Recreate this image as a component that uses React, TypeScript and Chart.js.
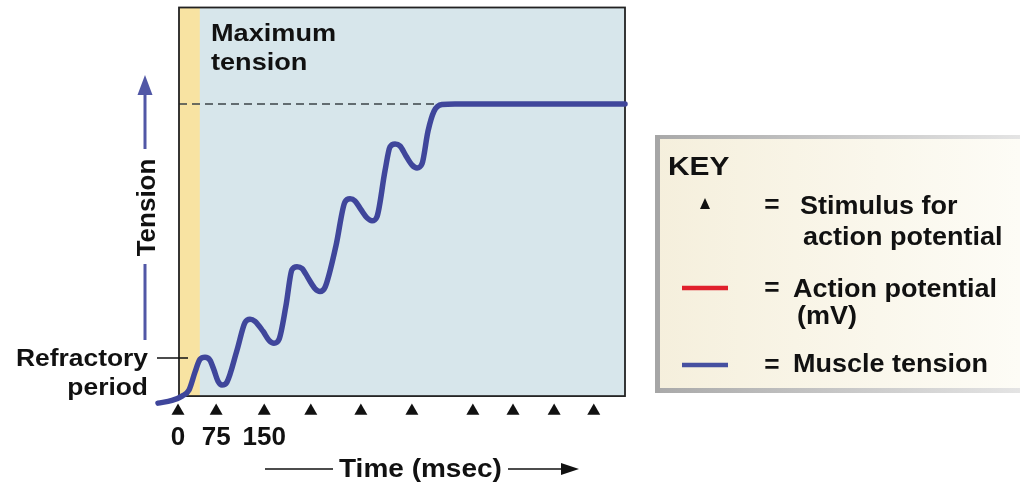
import React, { useEffect, useRef } from 'react';
import { Chart, registerables } from 'chart.js';

Chart.register(...registerables);

// ---------- data ----------
const timeMs = [-42.4, -14.1, 6.1, 20.2, 32.3, 42.4, 52.5, 62.6, 70.6, 78.7, 86.8, 96.8, 117.0, 133.2, 143.3, 153.4, 169.5, 181.6, 191.7, 201.8, 215.9, 228.0, 238.1, 248.2, 262.3, 274.4, 284.5, 294.6, 316.8, 335.0, 345.1, 355.2, 367.3, 379.4, 389.5, 399.5, 415.7, 425.8, 435.9, 446.0, 458.1, 470.2, 480.3, 490.4, 502.5, 514.6, 530.7, 556.9, 900];
const tension = [-2.4, -1.5, 0, 2.1, 8.2, 12.6, 13.3, 12.3, 8.9, 5.1, 3.8, 4.8, 15.7, 25.2, 26.3, 25.6, 22.2, 19.1, 18.1, 19.4, 31.0, 43.3, 44.3, 43.7, 39.9, 36.8, 35.8, 37.2, 51.5, 66.5, 67.5, 66.8, 63.8, 61.0, 60.0, 61.4, 77.1, 85.3, 86.3, 85.6, 82.2, 79.1, 78.1, 79.5, 90.7, 97.5, 99.8, 100, 100];
const stimulusMs = [-2, 75, 172, 266, 367, 470, 593, 674, 757, 837];
const stimulusLabels = ['0', '75', '150'];
const maxTension = 100;
const refractoryMs = [0, 42];
const plateauStartMs = 527;
const xBox = [0, 900];
const yBox = [0, 133];

// ---------- layout / style ----------
const W = 1022;
const H = 486;
const BOX = { left: 179, top: 6, right: 625, bottom: 396 };
const AREA = { left: 150, top: 6, right: 625, bottom: 420 };
const PX_X = (BOX.right - BOX.left) / (xBox[1] - xBox[0]);
const PX_Y = (BOX.bottom - BOX.top) / (yBox[1] - yBox[0]);
const X_MIN = xBox[0] - (BOX.left - AREA.left) / PX_X;
const Y_MIN = yBox[0] - (AREA.bottom - BOX.bottom) / PX_Y;
const STIM_ROW = -5.1;
const FONT = '"Liberation Sans", Arial, Helvetica, sans-serif';
const CURVE = '#3f469b';
const AXIS_BLUE = '#5157a6';

function txt(ctx: CanvasRenderingContext2D, s: string, x: number, y: number, size: number, sx = 1, align: CanvasTextAlign = 'left') {
  ctx.save();
  ctx.font = `bold ${size}px ${FONT}`;
  ctx.textAlign = align;
  ctx.textBaseline = 'alphabetic';
  ctx.fillStyle = '#111';
  ctx.translate(x, y);
  ctx.scale(sx, 1);
  ctx.fillText(s, 0, 0);
  ctx.restore();
}

function line(ctx: CanvasRenderingContext2D, x0: number, y0: number, x1: number, y1: number, color: string, w: number) {
  ctx.save();
  ctx.strokeStyle = color;
  ctx.lineWidth = w;
  ctx.beginPath();
  ctx.moveTo(x0, y0);
  ctx.lineTo(x1, y1);
  ctx.stroke();
  ctx.restore();
}

function tri(ctx: CanvasRenderingContext2D, pts: number[][], color: string) {
  ctx.save();
  ctx.fillStyle = color;
  ctx.beginPath();
  ctx.moveTo(pts[0][0], pts[0][1]);
  for (let i = 1; i < pts.length; i++) ctx.lineTo(pts[i][0], pts[i][1]);
  ctx.closePath();
  ctx.fill();
  ctx.restore();
}

const figurePlugin = {
  id: 'figure',
  beforeDatasetsDraw(chart: any) {
    const { ctx, scales } = chart;
    const x = scales.x;
    const y = scales.y;
    const l = x.getPixelForValue(xBox[0]);
    const r = x.getPixelForValue(xBox[1]);
    const t = y.getPixelForValue(yBox[1]);
    const b = y.getPixelForValue(yBox[0]);
    ctx.save();
    ctx.fillStyle = '#d7e6eb';
    ctx.fillRect(l, t, r - l, b - t);
    const b0 = x.getPixelForValue(refractoryMs[0]);
    const b1 = x.getPixelForValue(refractoryMs[1]);
    ctx.fillStyle = '#f8e3a2';
    ctx.fillRect(b0, t, b1 - b0, b - t);
    // dashed maximum tension line
    const my = y.getPixelForValue(maxTension);
    ctx.strokeStyle = '#3d4448';
    ctx.lineWidth = 1.5;
    ctx.setLineDash([8, 5]);
    ctx.beginPath();
    ctx.moveTo(l, my);
    ctx.lineTo(x.getPixelForValue(plateauStartMs), my);
    ctx.stroke();
    ctx.setLineDash([]);
    // frame
    ctx.strokeStyle = '#222';
    ctx.lineWidth = 1.8;
    ctx.strokeRect(l, t, r - l, b - t);
    ctx.restore();
  },
  afterDraw(chart: any) {
    const { ctx, scales } = chart;
    const x = scales.x;

    // Maximum tension label
    txt(ctx, 'Maximum', 211, 41, 24, 1.13);
    txt(ctx, 'tension', 211, 70, 24, 1.13);

    // stimulus tick labels
    stimulusLabels.forEach((s, i) => {
      txt(ctx, s, x.getPixelForValue(stimulusMs[i]), 445, 26, 1, 'center');
    });

    // Time axis title
    txt(ctx, 'Time (msec)', 339, 477, 25, 1.12);
    line(ctx, 265, 469, 333, 469, '#111', 1.6);
    line(ctx, 508, 469, 566, 469, '#111', 1.6);
    tri(ctx, [[579, 469], [561, 463], [561, 475]], '#111');

    // Tension axis title
    line(ctx, 145, 92, 145, 149, AXIS_BLUE, 3);
    tri(ctx, [[145, 75], [137.5, 95], [152.5, 95]], AXIS_BLUE);
    line(ctx, 145, 264, 145, 340, AXIS_BLUE, 3);
    ctx.save();
    ctx.font = `bold 26px ${FONT}`;
    ctx.textAlign = 'center';
    ctx.textBaseline = 'alphabetic';
    ctx.fillStyle = '#111';
    ctx.translate(155, 207.5);
    ctx.rotate(-Math.PI / 2);
    ctx.fillText('Tension', 0, 0);
    ctx.restore();

    // Refractory period label
    txt(ctx, 'Refractory', 148, 366, 24, 1.1, 'right');
    txt(ctx, 'period', 148, 395, 24, 1.1, 'right');
    line(ctx, 157, 358, 188, 358, '#111', 1.5);

    // KEY box
    ctx.save();
    const kx = 655, ky = 135, kw = 365, kh = 258;
    const g = ctx.createLinearGradient(kx, 0, kx + kw, 0);
    g.addColorStop(0, '#f5efdc');
    g.addColorStop(1, '#fdfcf6');
    ctx.fillStyle = g;
    ctx.fillRect(kx, ky, kw, kh);
    const tg = ctx.createLinearGradient(kx, 0, kx + kw, 0);
    tg.addColorStop(0, '#a9a9a9');
    tg.addColorStop(1, '#e4e4e4');
    ctx.fillStyle = tg;
    ctx.fillRect(kx, ky, kw, 4);
    ctx.fillRect(kx, ky + kh - 5, kw, 5);
    ctx.fillStyle = '#a6a6a6';
    ctx.fillRect(kx, ky, 5, kh);
    ctx.restore();

    txt(ctx, 'KEY', 668, 175, 26, 1.15);
    tri(ctx, [[705, 198], [700, 209], [710, 209]], '#111');
    txt(ctx, '=', 772, 213, 25, 1.05, 'center');
    txt(ctx, 'Stimulus for', 800, 214, 25, 1.08);
    txt(ctx, 'action potential', 803, 245, 25, 1.08);
    line(ctx, 682, 288, 728, 288, '#e0202c', 4.5);
    txt(ctx, '=', 772, 296, 25, 1.05, 'center');
    txt(ctx, 'Action potential', 793, 297, 25, 1.08);
    txt(ctx, '(mV)', 797, 324, 25, 1.08);
    line(ctx, 682, 365, 728, 365, '#4650a0', 4.5);
    txt(ctx, '=', 772, 373, 25, 1.05, 'center');
    txt(ctx, 'Muscle tension', 793, 372, 25, 1.08);
  },
};

export default function App() {
  const ref = useRef<HTMLCanvasElement | null>(null);

  useEffect(() => {
    if (!ref.current) return;
    const chart = new Chart(ref.current, {
      type: 'line',
      data: {
        datasets: [
          {
            label: 'Muscle tension',
            data: timeMs.map((t, i) => ({ x: t, y: tension[i] })),
            borderColor: CURVE,
            borderWidth: 5.5,
            pointRadius: 0,
            cubicInterpolationMode: 'monotone',
            borderCapStyle: 'round',
            borderJoinStyle: 'round',
            fill: false,
            clip: false as any,
          },
          {
            label: 'Stimulus for action potential',
            data: stimulusMs.map((t) => ({ x: t, y: STIM_ROW })),
            showLine: false,
            pointStyle: 'triangle',
            pointRadius: 7.5,
            pointBorderWidth: 0,
            pointBackgroundColor: '#111',
            pointBorderColor: '#111',
            clip: false as any,
          },
        ],
      },
      options: {
        animation: false,
        responsive: false,
        devicePixelRatio: 1,
        events: [],
        layout: {
          padding: { left: AREA.left, top: AREA.top, right: W - AREA.right, bottom: H - AREA.bottom },
        },
        scales: {
          x: { type: 'linear', min: X_MIN, max: xBox[1], display: false },
          y: { type: 'linear', min: Y_MIN, max: yBox[1], display: false },
        },
        plugins: {
          legend: { display: false },
          tooltip: { enabled: false },
        },
      },
      plugins: [figurePlugin],
    } as any);
    return () => chart.destroy();
  }, []);

  return (
    <div style={{ position: 'fixed', left: 0, top: 0, width: W, height: H, background: '#fff' }}>
      <canvas ref={ref} width={W} height={H} style={{ display: 'block', width: W, height: H }} />
    </div>
  );
}
